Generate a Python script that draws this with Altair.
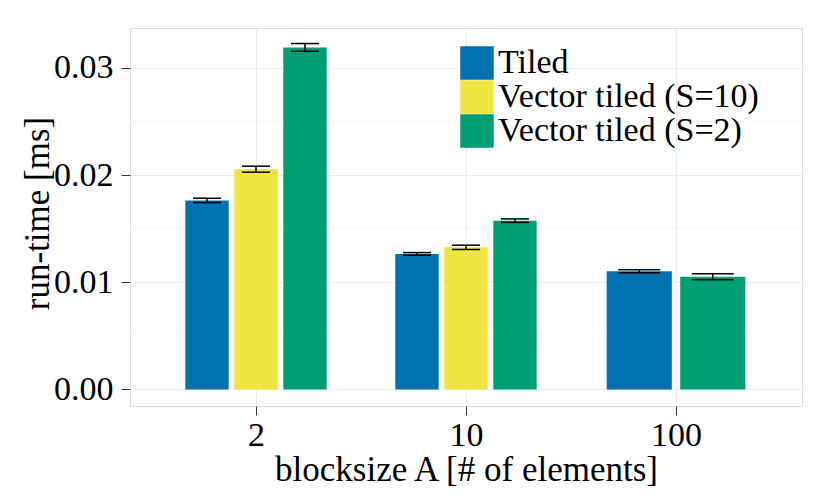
import altair as alt
import pandas as pd
import json

categories = ["2", "10", "100"]
series = ["Tiled", "Vector tiled (S=10)", "Vector tiled (S=2)"]
colors = ["#0072B2", "#F0E442", "#009E73"]

tiled = [0.01764, 0.01265, 0.01104]
vec10 = [0.02055, 0.01326, None]
vec2 = [0.03191, 0.01575, 0.01052]

err_tiled = [0.00020, 0.00012, 0.00014]
err_vec10 = [0.00028, 0.00020, None]
err_vec2 = [0.00036, 0.00016, 0.00028]

y_ticks = [0.0, 0.01, 0.02, 0.03]
y_minor = [0.005, 0.015, 0.025]

DODGE = 0.7
BAR = 0.62
ERRW = 0.4

vals = [tiled, vec10, vec2]
errs = [err_tiled, err_vec10, err_vec2]

rows = []
for i, c in enumerate(categories):
    present = [(s, vals[j][i], errs[j][i]) for j, s in enumerate(series) if vals[j][i] is not None]
    n = len(present)
    for k, (s, v, e) in enumerate(present):
        center = (i + 1) + (k - (n - 1) / 2) * DODGE / n
        rows.append(dict(cat=c, series=s, value=v, lo=v - e, hi=v + e, xc=center,
                         xl=center - BAR / (2 * n), xr=center + BAR / (2 * n),
                         el=center - ERRW / (2 * n), er=center + ERRW / (2 * n)))
df = pd.DataFrame(rows)
minor_df = pd.DataFrame({"y": y_minor})

FONT = "Liberation Serif"
FS = 34
TFS = 35

xscale = alt.Scale(domain=[0.4, 3.6], nice=False, zero=False)
yscale = alt.Scale(domain=[-0.00154, 0.03372], nice=False, zero=False)

label_expr = json.dumps(categories) + "[datum.value - 1]"

xaxis = alt.Axis(values=[1, 2, 3], labelExpr=label_expr, title="blocksize A [# of elements]",
                 grid=True, gridColor="#EBEBEB", domain=False, tickSize=9, tickColor="#333333",
                 labelPadding=3, labelFont=FONT, labelFontSize=FS, labelColor="black",
                 titleFont=FONT, titleFontSize=TFS, titleFontWeight="normal", titleColor="black",
                 titleY=74, titleBaseline="alphabetic")
yaxis = alt.Axis(values=y_ticks, format=".2f", title="run-time [ms]",
                 grid=True, gridColor="#EBEBEB", domain=False, tickSize=9, tickColor="#333333",
                 labelPadding=8, labelFont=FONT, labelFontSize=FS, labelColor="black",
                 titleFont=FONT, titleFontSize=TFS, titleFontWeight="normal", titleColor="black",
                 titleX=-82, titleY=185, titleBaseline="alphabetic")

minor = alt.Chart(minor_df).mark_rule(color="#F5F5F5", strokeWidth=1).encode(
    y=alt.Y("y:Q", scale=yscale, axis=yaxis)
)

bars = alt.Chart(df).mark_bar(opacity=1).encode(
    x=alt.X("xl:Q", scale=xscale, axis=xaxis),
    x2="xr:Q",
    y=alt.Y("value:Q", scale=yscale),
    y2=alt.datum(0),
    color=alt.Color("series:N", scale=alt.Scale(domain=series, range=colors),
                    legend=alt.Legend(title=None, orient="none", legendX=330, legendY=18,
                                      symbolType="square", symbolSize=1122, symbolStrokeWidth=0,
                                      symbolOpacity=1, labelFont=FONT, labelFontSize=FS,
                                      labelColor="black", labelOffset=4, rowPadding=0,
                                      padding=0, labelLimit=500)),
)

vline = alt.Chart(df).mark_rule(color="black", strokeWidth=1.5).encode(
    x="xc:Q", y="lo:Q", y2="hi:Q"
)
cap_lo = alt.Chart(df).mark_rule(color="black", strokeWidth=1.5).encode(
    x="el:Q", x2="er:Q", y="lo:Q"
)
cap_hi = alt.Chart(df).mark_rule(color="black", strokeWidth=1.5).encode(
    x="el:Q", x2="er:Q", y="hi:Q"
)

chart = alt.layer(minor, bars, vline, cap_lo, cap_hi).properties(
    width=672, height=378,
    autosize=alt.AutoSizeParams(type="none"),
    padding={"left": 122, "top": 20, "right": 20, "bottom": 84},
).configure_view(stroke="#7F7F7F", strokeWidth=1).configure(background="white")

chart.save("out.html", embed_options={"renderer": "svg", "actions": False})
